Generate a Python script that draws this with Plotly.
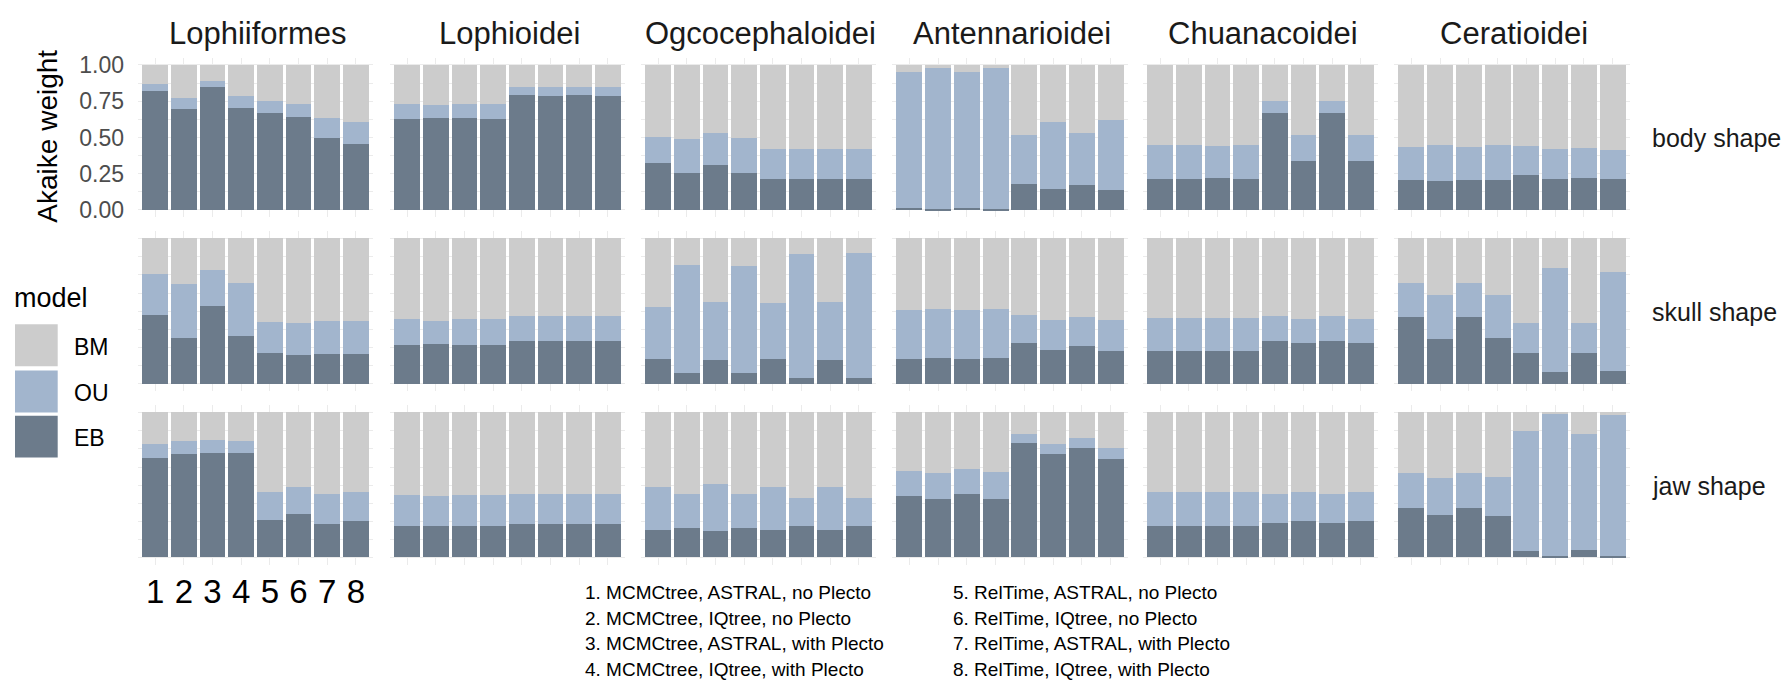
import plotly.graph_objects as go

# ---------------- data ----------------
clades = ["Lophiiformes", "Lophioidei", "Ogcocephaloidei",
          "Antennarioidei", "Chuanacoidei", "Ceratioidei"]
traits = ["body shape", "skull shape", "jaw shape"]
models = ["EB", "OU", "BM"]
trees = [1, 2, 3, 4, 5, 6, 7, 8]
tree_labels = ["1", "2", "3", "4", "5", "6", "7", "8"]
y_ticks = [0, 0.25, 0.5, 0.75, 1.0]
y_ticktext = ["0.00", "0.25", "0.50", "0.75", "1.00"]

# EB weight and cumulative EB+OU top, per clade (8 trees each)
eb_body = [
    [0.824, 0.695, 0.851, 0.702, 0.668, 0.641, 0.499, 0.458],
    [0.628, 0.634, 0.634, 0.628, 0.797, 0.790, 0.797, 0.790],
    [0.323, 0.255, 0.309, 0.255, 0.214, 0.214, 0.214, 0.214],
    [0.018, 0.011, 0.018, 0.011, 0.181, 0.147, 0.174, 0.140],
    [0.214, 0.214, 0.221, 0.214, 0.668, 0.343, 0.668, 0.343],
    [0.208, 0.201, 0.208, 0.208, 0.242, 0.214, 0.221, 0.214],
]
eb_ou_body = [
    [0.871, 0.777, 0.892, 0.790, 0.756, 0.736, 0.634, 0.607],
    [0.736, 0.729, 0.736, 0.736, 0.851, 0.851, 0.851, 0.851],
    [0.506, 0.492, 0.533, 0.499, 0.424, 0.424, 0.424, 0.424],
    [0.953, 0.980, 0.953, 0.980, 0.519, 0.607, 0.533, 0.621],
    [0.451, 0.451, 0.445, 0.451, 0.756, 0.519, 0.756, 0.519],
    [0.438, 0.451, 0.438, 0.451, 0.445, 0.424, 0.431, 0.418],
]
eb_skull = [
    [0.471, 0.315, 0.532, 0.329, 0.214, 0.200, 0.207, 0.207],
    [0.268, 0.275, 0.268, 0.268, 0.295, 0.295, 0.295, 0.295],
    [0.173, 0.072, 0.160, 0.072, 0.167, 0.038, 0.160, 0.038],
    [0.173, 0.180, 0.173, 0.180, 0.282, 0.234, 0.261, 0.227],
    [0.227, 0.227, 0.227, 0.227, 0.295, 0.282, 0.295, 0.282],
    [0.457, 0.309, 0.457, 0.315, 0.214, 0.079, 0.214, 0.086],
]
eb_ou_skull = [
    [0.755, 0.687, 0.782, 0.694, 0.423, 0.417, 0.430, 0.430],
    [0.444, 0.430, 0.444, 0.444, 0.464, 0.464, 0.464, 0.464],
    [0.525, 0.815, 0.565, 0.809, 0.552, 0.890, 0.559, 0.896],
    [0.505, 0.511, 0.505, 0.511, 0.471, 0.437, 0.457, 0.437],
    [0.450, 0.450, 0.450, 0.450, 0.464, 0.444, 0.464, 0.444],
    [0.694, 0.613, 0.694, 0.613, 0.417, 0.795, 0.417, 0.768],
]
eb_jaw = [
    [0.682, 0.709, 0.716, 0.716, 0.255, 0.296, 0.228, 0.248],
    [0.214, 0.214, 0.214, 0.214, 0.228, 0.228, 0.228, 0.228],
    [0.187, 0.201, 0.181, 0.201, 0.187, 0.214, 0.187, 0.214],
    [0.424, 0.404, 0.438, 0.404, 0.790, 0.709, 0.756, 0.675],
    [0.214, 0.214, 0.214, 0.214, 0.235, 0.248, 0.235, 0.248],
    [0.343, 0.289, 0.343, 0.282, 0.045, 0.007, 0.052, 0.007],
]
eb_ou_jaw = [
    [0.783, 0.804, 0.810, 0.804, 0.451, 0.485, 0.438, 0.451],
    [0.431, 0.424, 0.431, 0.431, 0.438, 0.438, 0.438, 0.438],
    [0.485, 0.438, 0.506, 0.438, 0.485, 0.411, 0.485, 0.411],
    [0.594, 0.580, 0.607, 0.587, 0.851, 0.783, 0.824, 0.756],
    [0.451, 0.451, 0.451, 0.451, 0.438, 0.451, 0.438, 0.451],
    [0.580, 0.546, 0.580, 0.553, 0.871, 0.986, 0.851, 0.980],
]

caption_left = ["1. MCMCtree, ASTRAL, no Plecto", "2. MCMCtree, IQtree, no Plecto",
                "3. MCMCtree, ASTRAL, with Plecto", "4. MCMCtree, IQtree, with Plecto"]
caption_right = ["5. RelTime, ASTRAL, no Plecto", "6. RelTime, IQtree, no Plecto",
                 "7. RelTime, ASTRAL, with Plecto", "8. RelTime, IQtree, with Plecto"]

# ---------------- styling / layout ----------------
W, H = 1785, 683
colors = {"EB": "#6C7B8B", "OU": "#A2B5CD", "BM": "#CCCCCC"}
FONT = "Liberation Sans, Arial, Helvetica, sans-serif"
GRID = "#EBEBEB"

col_px = [(138, 373), (390, 625), (641, 876), (892, 1128), (1143, 1378), (1394, 1630)]
row_px = [(52.6, 215.0), (229.3, 392.1), (406.6, 569.0)]

def px_x(x):
    return x / W

def px_y(y):
    return 1 - y / H

eb_all = [eb_body, eb_skull, eb_jaw]
top_all = [eb_ou_body, eb_ou_skull, eb_ou_jaw]

fig = go.Figure()
layout_axes = {}
for r in range(3):
    for c in range(6):
        k = r * 6 + c + 1
        xa = "x" if k == 1 else f"x{k}"
        ya = "y" if k == 1 else f"y{k}"
        eb = eb_all[r][c]
        top = top_all[r][c]
        ou = [t - e for t, e in zip(top, eb)]
        bm = [1 - t for t in top]
        for name, vals in zip(models, [eb, ou, bm]):
            fig.add_trace(go.Bar(
                x=trees, y=vals, name=name, width=0.9,
                marker=dict(color=colors[name], line=dict(width=0)),
                xaxis=xa, yaxis=ya, showlegend=False,
                hovertemplate=f"{clades[c]}, {traits[r]}<br>tree %{{x}}<br>{name}: %{{y:.3f}}<extra></extra>",
            ))
        x0, x1 = col_px[c]
        y0, y1 = row_px[r]
        show_x = (r == 2 and c == 0)
        show_y = (r == 0 and c == 0)
        layout_axes["xaxis" if k == 1 else f"xaxis{k}"] = dict(
            domain=[px_x(x0), px_x(x1)], anchor=ya, range=[0.4, 8.6],
            tickvals=trees, ticktext=tree_labels, showticklabels=show_x,
            tickfont=dict(size=33, color="#000000", family=FONT),
            ticks="", showgrid=True, gridcolor=GRID, gridwidth=1.2,
            zeroline=False, showline=False, fixedrange=True,
            ticklabelstandoff=4,
        )
        layout_axes["yaxis" if k == 1 else f"yaxis{k}"] = dict(
            domain=[px_y(y1), px_y(y0)], anchor=xa, range=[-0.05, 1.05],
            tickvals=y_ticks, ticktext=y_ticktext, showticklabels=show_y,
            tickfont=dict(size=23, color="#4D4D4D", family=FONT),
            ticks="", showgrid=True, gridcolor=GRID, gridwidth=1.2,
            minor=dict(tickvals=[0.125, 0.375, 0.625, 0.875], showgrid=True,
                       gridcolor=GRID, gridwidth=0.7),
            zeroline=False, showline=False, fixedrange=True,
            ticklabelstandoff=13,
        )

annotations = []
# column strip titles
for c, name in enumerate(clades):
    x0, x1 = col_px[c]
    annotations.append(dict(text=name, x=px_x((x0 + x1) / 2 + 2), y=px_y(28),
                            xref="paper", yref="paper", showarrow=False,
                            xanchor="center", yanchor="middle",
                            font=dict(size=31, color="#1A1A1A", family=FONT)))
# row strip labels
for r, name in enumerate(traits):
    y0, y1 = row_px[r]
    annotations.append(dict(text=name, x=px_x(1650), y=px_y((y0 + y1) / 2 + 1),
                            xref="paper", yref="paper", showarrow=False,
                            xanchor="left", yanchor="middle",
                            font=dict(size=25, color="#1A1A1A", family=FONT)))
# y axis title
annotations.append(dict(text="Akaike weight", x=px_x(48), y=px_y(133),
                        xref="paper", yref="paper", showarrow=False, textangle=-90,
                        xanchor="center", yanchor="middle",
                        font=dict(size=28, color="#000000", family=FONT)))
# legend (drawn manually to mimic ggplot keys)
annotations.append(dict(text="model", x=px_x(12), y=px_y(297),
                        xref="paper", yref="paper", showarrow=False,
                        xanchor="left", yanchor="middle",
                        font=dict(size=27, color="#000000", family=FONT)))
shapes = []
key_top = [324, 371, 417]
for name, yt in zip(["BM", "OU", "EB"], key_top):
    shapes.append(dict(type="rect", xref="paper", yref="paper",
                       x0=px_x(15), x1=px_x(57.7), y0=px_y(yt + 42.7), y1=px_y(yt),
                       fillcolor=colors[name], line=dict(width=0)))
    annotations.append(dict(text=name, x=px_x(72), y=px_y(yt + 23),
                            xref="paper", yref="paper", showarrow=False,
                            xanchor="left", yanchor="middle",
                            font=dict(size=23, color="#000000", family=FONT)))
# caption
line_y = [597, 623, 649, 675]
for txt, yy in zip(caption_left, line_y):
    annotations.append(dict(text=txt, x=px_x(583), y=px_y(yy), xref="paper", yref="paper",
                            showarrow=False, xanchor="left", yanchor="middle",
                            font=dict(size=19, color="#000000", family=FONT)))
for txt, yy in zip(caption_right, line_y):
    annotations.append(dict(text=txt, x=px_x(951), y=px_y(yy), xref="paper", yref="paper",
                            showarrow=False, xanchor="left", yanchor="middle",
                            font=dict(size=19, color="#000000", family=FONT)))

fig.update_layout(
    width=W, height=H, barmode="stack", bargap=0,
    margin=dict(l=0, r=0, t=0, b=0),
    paper_bgcolor="white", plot_bgcolor="white",
    showlegend=False, annotations=annotations, shapes=shapes,
    font=dict(family=FONT),
    **layout_axes,
)

fig.write_html("out.html", config={"displayModeBar": False})
